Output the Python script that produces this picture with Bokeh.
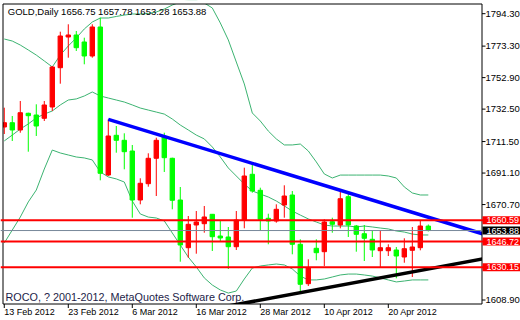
from bokeh.plotting import figure
from bokeh.models import Range1d, Span, Label, ColumnDataSource
from bokeh.embed import file_html
from bokeh.resources import INLINE

FONT = "Liberation Sans"

# ---- data -------------------------------------------------------------
dates = [
    "13 Feb 2012", "14 Feb 2012", "15 Feb 2012", "16 Feb 2012", "17 Feb 2012",
    "20 Feb 2012", "21 Feb 2012", "22 Feb 2012", "23 Feb 2012", "24 Feb 2012",
    "27 Feb 2012", "28 Feb 2012", "29 Feb 2012", "1 Mar 2012", "2 Mar 2012",
    "5 Mar 2012", "6 Mar 2012", "7 Mar 2012", "8 Mar 2012", "9 Mar 2012",
    "12 Mar 2012", "13 Mar 2012", "14 Mar 2012", "15 Mar 2012", "16 Mar 2012",
    "19 Mar 2012", "20 Mar 2012", "21 Mar 2012", "22 Mar 2012", "23 Mar 2012",
    "26 Mar 2012", "27 Mar 2012", "28 Mar 2012", "29 Mar 2012", "30 Mar 2012",
    "2 Apr 2012", "3 Apr 2012", "4 Apr 2012", "5 Apr 2012", "9 Apr 2012",
    "10 Apr 2012", "11 Apr 2012", "12 Apr 2012", "13 Apr 2012", "16 Apr 2012",
    "17 Apr 2012", "18 Apr 2012", "19 Apr 2012", "20 Apr 2012", "23 Apr 2012",
    "24 Apr 2012", "25 Apr 2012", "26 Apr 2012", "27 Apr 2012",
]
opens = [1720.92, 1723.71, 1718.98, 1729.80, 1728.69, 1726.56, 1733.88, 1759.32, 1779.20, 1780.50,
         1775.97, 1766.90, 1785.68, 1689.84, 1715.55, 1712.31, 1705.38, 1673.65, 1684.21, 1700.66,
         1714.45, 1700.66, 1673.65, 1642.77, 1657.47, 1658.31, 1664.39, 1650.34, 1649.70, 1643.41,
         1660.70, 1690.30, 1679.93, 1661.80, 1660.06, 1670.42, 1676.89, 1644.97, 1619.46, 1642.38,
         1640.18, 1659.60, 1657.47, 1675.79, 1656.82, 1651.83, 1648.21, 1640.82, 1640.82, 1641.28,
         1636.74, 1641.08, 1642.77, 1656.75]
highs = [1733.42, 1728.05, 1737.76, 1730.20, 1735.62, 1737.76, 1760.42, 1782.64, 1787.43, 1783.09,
         1778.75, 1787.43, 1791.70, 1725.91, 1721.57, 1716.84, 1709.27, 1687.71, 1703.89, 1714.00,
         1717.23, 1701.05, 1682.07, 1663.29, 1666.53, 1669.77, 1664.60, 1660.06, 1656.17, 1666.53,
         1694.57, 1696.77, 1681.62, 1664.78, 1670.87, 1683.17, 1679.48, 1648.21, 1635.25, 1648.21,
         1661.16, 1662.19, 1679.93, 1678.38, 1657.47, 1657.47, 1654.03, 1653.58, 1644.97, 1643.22,
         1648.85, 1656.17, 1660.51, 1657.78]
lows = [1716.39, 1711.86, 1717.23, 1704.93, 1715.10, 1724.81, 1731.29, 1748.96, 1765.80, 1770.14,
        1761.53, 1765.80, 1686.41, 1689.19, 1704.28, 1693.53, 1662.19, 1670.87, 1682.27, 1676.24,
        1691.79, 1667.63, 1633.70, 1636.29, 1638.88, 1652.48, 1640.63, 1647.10, 1628.97, 1641.28,
        1655.33, 1678.38, 1654.03, 1644.97, 1658.96, 1662.19, 1638.49, 1613.63, 1617.97, 1634.61,
        1630.92, 1652.48, 1655.33, 1649.70, 1640.18, 1634.15, 1636.74, 1629.82, 1637.39, 1622.95,
        1633.05, 1623.79, 1641.08, 1653.28]
closes = [1723.71, 1718.98, 1730.18, 1728.24, 1721.57, 1735.17, 1759.78, 1779.85, 1780.50, 1772.27,
          1766.90, 1785.68, 1690.94, 1715.10, 1712.31, 1704.93, 1673.65, 1684.47, 1700.66, 1712.31,
          1701.05, 1673.46, 1644.51, 1657.92, 1659.41, 1662.65, 1649.89, 1649.05, 1643.41, 1660.70,
          1689.19, 1679.48, 1661.16, 1660.06, 1667.63, 1676.24, 1644.97, 1619.07, 1629.82, 1639.53,
          1659.41, 1657.92, 1674.50, 1657.47, 1651.44, 1648.85, 1641.28, 1642.77, 1642.77, 1637.39,
          1642.12, 1643.22, 1656.82, 1653.88]
bb_upper = [1777.9, 1776.6, 1774.0, 1770.8, 1767.5, 1763.7, 1759.8, 1767.5, 1773.4, 1778.6,
            1784.4, 1788.9, 1791.5, 1791.5, 1792.5, 1793.4, 1794.1, 1794.1, 1794.4, 1795.4,
            1797.3, 1799.9, 1801.9, 1802.5, 1802.5, 1801.2, 1798.0, 1788.3, 1777.3, 1763.0,
            1748.8, 1730.0, 1724.8, 1718.3, 1713.2, 1709.3, 1709.3, 1709.9, 1705.4, 1698.3,
            1690.5, 1687.9, 1689.8, 1689.8, 1689.8, 1689.8, 1689.8, 1689.8, 1689.2, 1687.9,
            1682.1, 1678.2, 1676.9, 1676.9]
bb_middle = [1711.9, 1715.7, 1719.6, 1722.9, 1726.8, 1729.3, 1731.3, 1735.2, 1738.4, 1739.1,
             1741.0, 1743.6, 1741.0, 1739.7, 1738.4, 1737.1, 1735.2, 1733.2, 1731.9, 1730.6,
             1729.3, 1726.1, 1722.2, 1719.0, 1715.7, 1713.2, 1708.0, 1701.5, 1694.4, 1689.2,
             1684.0, 1679.5, 1677.5, 1675.6, 1673.0, 1669.8, 1666.5, 1663.9, 1661.4, 1659.4,
             1657.5, 1656.8, 1656.8, 1656.8, 1656.2, 1656.8, 1656.2, 1655.5, 1654.9, 1653.6,
             1652.9, 1651.6, 1651.0, 1651.0]
bb_lower = [1645.8, 1654.2, 1662.6, 1672.4, 1680.1, 1693.7, 1706.0, 1704.1, 1702.8, 1701.5,
            1700.9, 1699.6, 1691.8, 1688.6, 1687.3, 1685.3, 1673.0, 1664.6, 1662.6, 1662.0,
            1660.1, 1652.3, 1644.5, 1636.7, 1630.3, 1623.2, 1618.6, 1615.4, 1613.4, 1614.7,
            1622.5, 1629.6, 1630.9, 1631.6, 1632.2, 1631.6, 1629.0, 1624.4, 1621.9, 1621.9,
            1622.5, 1623.8, 1625.1, 1625.7, 1625.7, 1625.1, 1624.4, 1623.2, 1621.9, 1620.6,
            1621.2, 1621.9, 1621.9, 1621.9]
date_tick_idx = [0, 8, 16, 24, 32, 40, 48]
price_ticks = [1608.90, 1670.70, 1691.10, 1711.50, 1732.50, 1752.90, 1773.30, 1794.30]
level_prices = [1660.59, 1646.72, 1630.15]
bid_price = 1653.88
blue_anchor_idx = [13, 42]
blue_anchor_price = [1725.91, 1679.93]
black_anchor_idx = [37, 53]
black_anchor_price = [1613.63, 1628.97]
symbol = "GOLD,Daily"
copyright_text = "ROCO, ? 2001-2012, MetaQuotes Software Corp."

# ---- layout: visible chart window and its pixel box ----------------------
W, H = 520, 320
VIEW_X = (-0.16, 59.71)          # bar-index range shown inside the chart box
VIEW_Y = (1606.31, 1800.57)      # price range shown inside the chart box
CL, CR, CT, CB = 2.5, 481.5, 3.5, 303.5   # chart box edges in pixels
SX = (VIEW_X[1] - VIEW_X[0]) / (CR - CL)
SY = (VIEW_Y[1] - VIEW_Y[0]) / (CB - CT)


def xd(px):
    return VIEW_X[0] + (px - CL) * SX


def yd(py):
    return VIEW_Y[1] - (py - CT) * SY


p = figure(width=W, height=H, output_backend="svg", toolbar_location=None,
           x_range=Range1d(xd(0), xd(W)), y_range=Range1d(yd(H), yd(0)),
           x_axis_location=None, y_axis_location=None,
           min_border_left=0, min_border_right=0, min_border_top=0, min_border_bottom=0)
p.background_fill_color = "white"
p.border_fill_color = "white"
p.outline_line_color = None
p.grid.visible = False

idx = list(range(len(dates)))
BAND = "#3CB371"
for band in (bb_upper, bb_middle, bb_lower):
    p.line(idx, band, line_color=BAND, line_width=1)

UP, DOWN = "#FF0000", "#00FF00"
colors = [UP if c >= o else DOWN for o, c in zip(opens, closes)]
src = ColumnDataSource(dict(
    x=idx, h=highs, l=lows,
    top=[max(o, c) for o, c in zip(opens, closes)],
    bot=[min(o, c) for o, c in zip(opens, closes)],
    color=colors))
p.segment(x0="x", x1="x", y0="l", y1="h", source=src, line_color="color", line_width=1)
p.vbar(x="x", width=0.55, top="top", bottom="bot", source=src,
       fill_color="color", line_color="color", line_width=1)

# horizontal levels
p.add_layout(Span(location=bid_price, dimension="width", line_color="#778899",
                  line_width=1, level="glyph"))
for lv in level_prices:
    p.add_layout(Span(location=lv, dimension="width", line_color="#FF0000",
                      line_width=2, level="glyph"))


def ray(ix, py, x_start, x_end):
    slope = (py[1] - py[0]) / (ix[1] - ix[0])
    return [x_start, x_end], [py[0] + slope * (x_start - ix[0]), py[0] + slope * (x_end - ix[0])]


bx, by = ray(blue_anchor_idx, blue_anchor_price, blue_anchor_idx[0], VIEW_X[1] + 3)
p.line(bx, by, line_color="#0000FF", line_width=3.5)
kx, ky = ray(black_anchor_idx, black_anchor_price, 20, VIEW_X[1] + 3)
p.line(kx, ky, line_color="black", line_width=3.5)

# white margins outside the chart box (clip), then the box itself
p.quad(left=[xd(-2), xd(-2), xd(CR), xd(-2)], right=[xd(CL), xd(W + 2), xd(W + 2), xd(W + 2)],
       bottom=[yd(H + 2), yd(CT), yd(H + 2), yd(H + 2)], top=[yd(-2), yd(-2), yd(-2), yd(CB)],
       fill_color="white", line_color=None)
p.quad(left=[VIEW_X[0]], right=[VIEW_X[1]], bottom=[VIEW_Y[0]], top=[VIEW_Y[1]],
       fill_color=None, line_color="black", line_width=1)

# tick marks
p.segment(x0=[xd(CR)] * len(price_ticks), x1=[xd(CR + 3.5)] * len(price_ticks),
          y0=price_ticks, y1=price_ticks, line_color="black", line_width=1)
p.segment(x0=date_tick_idx, x1=date_tick_idx,
          y0=[VIEW_Y[0]] * len(date_tick_idx), y1=[yd(CB + 4)] * len(date_tick_idx),
          line_color="black", line_width=1)

# texts
for t in price_ticks:
    p.add_layout(Label(x=xd(CR + 3.5), y=t, text=f"{t:.2f}",
                       text_font=FONT, text_font_size="9.5px", text_color="black",
                       text_baseline="middle", text_align="left"))
for i in date_tick_idx:
    p.add_layout(Label(x=i, y=yd(311), text=dates[i],
                       text_font=FONT, text_font_size="9px", text_color="black",
                       text_baseline="middle", text_align="left"))

title = f"{symbol}  {opens[-1]:.2f} {highs[-1]:.2f} {lows[-1]:.2f} {closes[-1]:.2f}"
p.add_layout(Label(x=xd(7.3), y=yd(10.5), text=title,
                   text_font=FONT, text_font_size="9.5px", text_color="black",
                   text_baseline="middle", text_align="left"))
p.add_layout(Label(x=xd(5), y=yd(296), text=copyright_text,
                   text_font=FONT, text_font_size="10.8px", text_color="#1c1c48",
                   text_baseline="middle", text_align="left"))

for price, bg in [(level_prices[0], "#FF0000"), (bid_price, "black"),
                  (level_prices[1], "#FF0000"), (level_prices[2], "#FF0000")]:
    p.add_layout(Label(x=xd(CR + 0.5), y=price, text=f"{price:.2f}",
                       text_font=FONT, text_font_size="9px", text_color="white",
                       text_baseline="middle", text_align="left",
                       background_fill_color=bg,
                       padding=dict(left=4, right=3, top=1, bottom=1)))

open("out.html", "w").write(file_html(p, INLINE))
